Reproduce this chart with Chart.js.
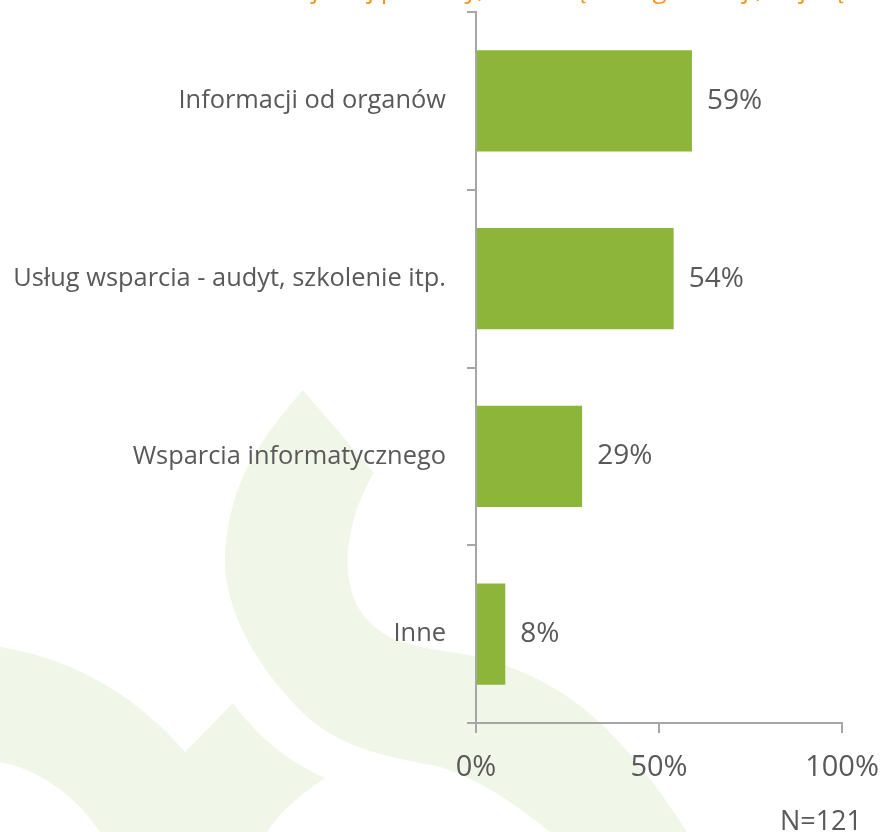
<!DOCTYPE html>
<html>
<head>
<meta charset="utf-8">
<script src="https://cdn.jsdelivr.net/npm/chart.js@4"></script>
<style>
  html, body { margin: 0; padding: 0; background: #fff; }
  #wrap { position: relative; width: 880px; height: 832px; overflow: hidden; }
  #tytul { position: absolute; top: -30px; left: 290px; white-space: nowrap; line-height: 30px;
           font: 26px "Open Sans", sans-serif; color: #f7941d; }
  #proba { position: absolute; right: 18px; bottom: -6px; line-height: 27px;
           font: 27px "Open Sans", sans-serif; color: #595959; }
</style>
</head>
<body>
<div id="wrap">
  <canvas id="wykres" width="880" height="832"></canvas>
  <div id="tytul">Z jakiej pomocy, z zewnątrz organizacji, najczęściej korzystają użytkownicy?</div>
  <div id="proba">N=121</div>
</div>
<script>
const kategorie = ['Informacji od organów', 'Usług wsparcia - audyt, szkolenie itp.', 'Wsparcia informatycznego', 'Inne'];
const wartosci = [59, 54, 29, 8];
const ticksX = [0, 50, 100];

const szary = '#595959';
const linia = '#a6a6a6';

// jasne tło w kształcie liści
const tloPlugin = {
    id: 'tlo',
    beforeDraw(chart) {
        const ctx = chart.ctx;
        ctx.save();
        ctx.fillStyle = 'rgb(240,247,232)';
        // duży łuk
        ctx.beginPath();
        ctx.moveTo(303, 390);
        ctx.lineTo(374, 473);
        ctx.bezierCurveTo(345, 520, 330, 600, 383, 633);
        ctx.bezierCurveTo(410, 650, 450, 650, 477, 657);
        ctx.bezierCurveTo(530, 670, 570, 695, 597, 720);
        ctx.bezierCurveTo(630, 750, 660, 790, 687, 832);
        ctx.lineTo(550, 832);
        ctx.bezierCurveTo(510, 800, 480, 780, 440, 767);
        ctx.bezierCurveTo(400, 758, 340, 752, 300, 710);
        ctx.bezierCurveTo(250, 660, 222, 600, 225, 553);
        ctx.bezierCurveTo(230, 480, 260, 440, 303, 390);
        ctx.closePath();
        ctx.fill();
        // lewy dolny liść
        ctx.beginPath();
        ctx.moveTo(0, 647);
        ctx.bezierCurveTo(80, 660, 140, 700, 185, 752);
        ctx.lineTo(233, 703);
        ctx.bezierCurveTo(260, 740, 290, 762, 325, 778);
        ctx.bezierCurveTo(300, 795, 280, 812, 267, 832);
        ctx.lineTo(100, 832);
        ctx.bezierCurveTo(75, 795, 40, 770, 0, 762);
        ctx.closePath();
        ctx.fill();
        ctx.restore();
    }
};

// etykiety wartości przy słupkach
const etykietyPlugin = {
    id: 'etykiety',
    afterDatasetsDraw(chart) {
        const ctx = chart.ctx;
        const meta = chart.getDatasetMeta(0);
        ctx.save();
        ctx.font = '28px "Open Sans", sans-serif';
        ctx.fillStyle = szary;
        ctx.textAlign = 'left';
        ctx.textBaseline = 'middle';
        meta.data.forEach((bar, i) => {
            ctx.fillText(wartosci[i] + '%', bar.x + 15, bar.y);
        });
        ctx.restore();
    }
};

const ctx = document.getElementById('wykres').getContext('2d');
new Chart(ctx, {
    type: 'bar',
    data: {
        labels: kategorie,
        datasets: [{
            data: wartosci,
            backgroundColor: '#8db53a',
            borderWidth: 0,
            barPercentage: 0.57,
            categoryPercentage: 1
        }]
    },
    options: {
        indexAxis: 'y',
        responsive: false,
        animation: false,
        layout: { padding: { top: 12, right: 38, left: 0, bottom: 0 } },
        plugins: {
            legend: { display: false },
            tooltip: { enabled: false }
        },
        scales: {
            x: {
                min: 0,
                max: 100,
                afterBuildTicks: (scale) => { scale.ticks = ticksX.map(v => ({ value: v })); },
                afterFit: (scale) => {
                    scale.height = 109;
                    scale.paddingLeft = 0;
                    scale.paddingRight = 0;
                },
                border: { color: linia, width: 2 },
                grid: { drawOnChartArea: false, drawTicks: true, tickLength: 10, color: linia, lineWidth: 2 },
                ticks: {
                    color: szary,
                    padding: 17,
                    font: { family: 'Open Sans', size: 29 },
                    callback: (v) => v + '%'
                }
            },
            y: {
                afterFit: (scale) => {
                    scale.width = 476;
                    scale.paddingTop = 0;
                    scale.paddingBottom = 0;
                },
                border: { color: linia, width: 2 },
                grid: { drawOnChartArea: false, drawTicks: true, tickLength: 9, color: linia, lineWidth: 2 },
                ticks: {
                    color: szary,
                    padding: 21,
                    font: { family: 'Open Sans', size: 25.4 }
                }
            }
        }
    },
    plugins: [tloPlugin, etykietyPlugin]
});
</script>
</body>
</html>
